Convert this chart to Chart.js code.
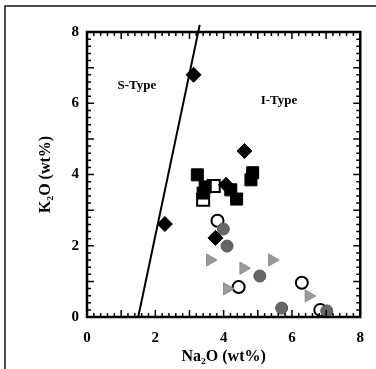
<!DOCTYPE html>
<html><head><meta charset="utf-8">
<script src="https://cdn.jsdelivr.net/npm/chart.js@4/dist/chart.umd.min.js"></script>
<style>html,body{margin:0;padding:0;background:#fff}#wrap{width:376px;height:369px;position:relative}</style>
</head><body><div id="wrap"><canvas id="c" width="376" height="369"></canvas></div>
<script>
const xTicks = [0, 2, 4, 6, 8];
const yTicks = [0, 2, 4, 6, 8];
const boundaryX = [1.5, 3.3];
const boundaryY = [0, 8.2];
const diamondX = [3.12, 2.28, 4.61, 3.76, 4.07];
const diamondY = [6.80, 2.61, 4.66, 2.22, 3.71];
const squareX = [3.23, 3.46, 3.40, 4.21, 4.38, 4.85, 4.80];
const squareY = [3.99, 3.65, 3.48, 3.57, 3.31, 4.05, 3.85];
const openSquareX = [3.40, 3.71];
const openSquareY = [3.29, 3.68];
const openCircleX = [3.82, 4.44, 6.29, 6.83];
const openCircleY = [2.70, 0.84, 0.96, 0.20];
const grayCircleX = [3.99, 4.10, 5.06, 5.70, 7.02];
const grayCircleY = [2.47, 1.99, 1.15, 0.25, 0.17];
const triangleX = [3.60, 5.42, 4.58, 4.10, 6.49];
const triangleY = [1.60, 1.60, 1.37, 0.79, 0.59];
const labelText = ['S-Type', 'I-Type'];
const labelX = [1.46, 5.62];
const labelY = [6.49, 6.07];

const pts = (xs, ys) => xs.map((x, i) => ({x, y: ys[i]}));
const serif = '"Liberation Serif", "DejaVu Serif", serif';

const frame = {
  id: 'frame',
  beforeDraw(chart) {
    const ctx = chart.ctx;
    ctx.save();
    ctx.strokeStyle = '#111';
    ctx.lineWidth = 1.5;
    ctx.beginPath();
    ctx.moveTo(5, 369); ctx.lineTo(5, 6); ctx.lineTo(376, 6);
    ctx.stroke();
    ctx.restore();
  },
  afterDatasetsDraw(chart) {
    const ctx = chart.ctx;
    const a = chart.chartArea;
    const xs = chart.scales.x, ys = chart.scales.y;
    ctx.save();
    ctx.strokeStyle = '#000';
    ctx.lineWidth = 1.5;
    ctx.beginPath();
    for (let i = 0; i <= 40; i++) {
      const v = i * 0.2;
      const len = (i % 5 === 0) ? 7 : 4;
      const px = xs.getPixelForValue(v);
      ctx.moveTo(px, a.bottom); ctx.lineTo(px, a.bottom - len);
      ctx.moveTo(px, a.top); ctx.lineTo(px, a.top + len);
      const py = ys.getPixelForValue(v);
      ctx.moveTo(a.left, py); ctx.lineTo(a.left + len, py);
      ctx.moveTo(a.right, py); ctx.lineTo(a.right - len, py);
    }
    ctx.stroke();
    ctx.lineWidth = 2.5;
    ctx.strokeRect(a.left, a.top, a.right - a.left, a.bottom - a.top);
    ctx.fillStyle = '#000';
    ctx.font = 'bold 13px ' + serif;
    ctx.textAlign = 'center';
    ctx.textBaseline = 'middle';
    labelText.forEach((t, i) => {
      ctx.fillText(t, xs.getPixelForValue(labelX[i]), ys.getPixelForValue(labelY[i]));
    });
    ctx.restore();
  }
};

new Chart(document.getElementById('c'), {
  type: 'scatter',
  data: {
    datasets: [
      {type: 'line', data: pts(boundaryX, boundaryY), borderColor: '#000', borderWidth: 2, pointRadius: 0, showLine: true, clip: false, order: 10, fill: false},
      {data: pts(openSquareX, openSquareY), pointStyle: 'rect', pointRadius: 8.5, backgroundColor: '#fff', borderColor: '#000', borderWidth: 2, order: 6},
      {data: pts(squareX, squareY), pointStyle: 'rect', pointRadius: 8.5, backgroundColor: '#000', borderColor: '#000', borderWidth: 1, order: 5},
      {data: pts(diamondX, diamondY), pointStyle: 'rectRot', pointRadius: 7.5, backgroundColor: '#000', borderColor: '#000', borderWidth: 1, order: 4},
      {data: pts(openCircleX, openCircleY), pointStyle: 'circle', pointRadius: 6, backgroundColor: '#fff', borderColor: '#000', borderWidth: 2, order: 3},
      {data: pts(triangleX, triangleY), pointStyle: 'triangle', rotation: 90, pointRadius: 7, backgroundColor: '#9a9a9a', borderColor: '#8a8a8a', borderWidth: 1, order: 2},
      {data: pts(grayCircleX, grayCircleY), pointStyle: 'circle', pointRadius: 6, backgroundColor: '#666', borderColor: '#555', borderWidth: 1, order: 1}
    ]
  },
  options: {
    responsive: false,
    animation: false,
    layout: {padding: {left: 0, top: 32, right: 4, bottom: 0}},
    plugins: {legend: {display: false}, tooltip: {enabled: false}},
    elements: {point: {hoverRadius: 6}},
    scales: {
      x: {
        type: 'linear', min: 0, max: 8,
        afterFit(s) { s.height = 52; },
        afterBuildTicks(s) { s.ticks = xTicks.map(v => ({value: v})); },
        grid: {display: false, drawTicks: false},
        border: {display: false},
        ticks: {color: '#000', padding: 12, font: {family: serif, size: 15, weight: 'bold'}},
        title: {display: true, text: 'Na₂O (wt%)', color: '#000', padding: {top: 0, bottom: 3}, font: {family: serif, size: 16, weight: 'bold'}}
      },
      y: {
        type: 'linear', min: 0, max: 8,
        afterFit(s) { s.width = 87; },
        afterBuildTicks(s) { s.ticks = yTicks.map(v => ({value: v})); },
        grid: {display: false, drawTicks: false},
        border: {display: false},
        ticks: {color: '#000', padding: 8, font: {family: serif, size: 15, weight: 'bold'}},
        title: {display: true, text: 'K₂O (wt%)', color: '#000', padding: {top: 36, bottom: 0}, font: {family: serif, size: 16, weight: 'bold'}}
      }
    }
  },
  plugins: [frame]
});
</script></body></html>
